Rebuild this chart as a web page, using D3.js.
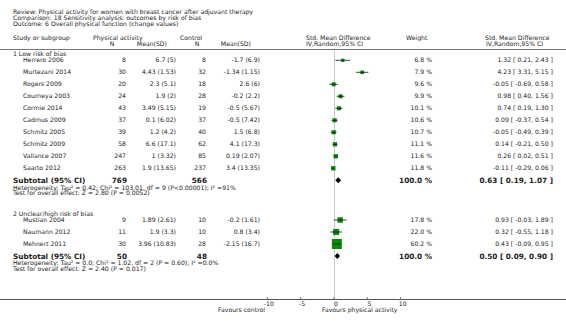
<!DOCTYPE html>
<html>
<head>
<meta charset="utf-8">
<script src="https://cdn.jsdelivr.net/npm/d3@7"></script>
<style>
  body { margin: 0; background: #fff; }
  svg { display: block; font-family: "DejaVu Sans", Verdana, sans-serif; }
</style>
</head>
<body>
<div id="chart"></div>
<script>
// ===========================
// Forest plot - overall physical function by risk of bias
// ===========================

const headerLines = [
    'Review:  Physical activity for women with breast cancer after adjuvant therapy',
    'Comparison:  18 Sensitivity analysis: outcomes by risk of bias',
    'Outcome:  6 Overall physical function (change values)'
];

// group 1 - low risk of bias
const lowStudies = ['Herrero 2006', 'Murtezani 2014', 'Rogers 2009', 'Courneya 2003', 'Cormie 2014',
    'Cadmus 2009', 'Schmitz 2005', 'Schmitz 2009', 'Vallance 2007', 'Saarto 2012'];
const lowExpN = [8, 30, 20, 24, 43, 37, 39, 58, 247, 263];
const lowExpMean = ['6.7 (5)', '4.43 (1.53)', '2.3 (5.1)', '1.9 (2)', '3.49 (5.15)', '0.1 (6.02)',
    '1.2 (4.2)', '6.6 (17.1)', '1 (3.32)', '1.9 (13.65)'];
const lowCtlN = [8, 32, 18, 28, 19, 37, 40, 62, 85, 237];
const lowCtlMean = ['-1.7 (6.9)', '-1.34 (1.15)', '2.6 (6)', '-0.2 (2.2)', '-0.5 (5.67)', '-0.5 (7.42)',
    '1.5 (6.8)', '4.1 (17.3)', '0.19 (2.07)', '3.4 (13.35)'];
const lowWeight = [6.8, 7.9, 9.6, 9.9, 10.1, 10.6, 10.7, 11.1, 11.6, 11.8];
const lowSmd = [1.32, 4.23, -0.05, 0.98, 0.74, 0.09, -0.05, 0.14, 0.26, -0.11];
const lowLo = [0.21, 3.31, -0.69, 0.40, 0.19, -0.37, -0.49, -0.21, 0.02, -0.29];
const lowHi = [2.43, 5.15, 0.58, 1.56, 1.30, 0.54, 0.39, 0.50, 0.51, 0.06];
const lowTotal = { expN: 769, ctlN: 566, smd: 0.63, lo: 0.19, hi: 1.07 };
const lowHet = 'Heterogeneity: Tau\u00b2 = 0.42; Chi\u00b2 = 103.01, df = 9 (P<0.00001); I\u00b2 =91%';
const lowTest = 'Test for overall effect: Z = 2.80 (P = 0.0052)';

// group 2 - unclear/high risk of bias
const highStudies = ['Mustian 2004', 'Naumann 2012', 'Mehnert 2011'];
const highExpN = [9, 11, 30];
const highExpMean = ['1.89 (2.61)', '1.9 (3.3)', '3.96 (10.83)'];
const highCtlN = [10, 10, 28];
const highCtlMean = ['-0.2 (1.61)', '0.8 (3.4)', '-2.15 (16.7)'];
const highWeight = [17.8, 22.0, 60.2];
const highSmd = [0.93, 0.32, 0.43];
const highLo = [-0.03, -0.55, -0.09];
const highHi = [1.89, 1.18, 0.95];
const highTotal = { expN: 50, ctlN: 48, smd: 0.50, lo: 0.09, hi: 0.90 };
const highHet = 'Heterogeneity: Tau\u00b2 = 0.0; Chi\u00b2 = 1.02, df = 2 (P = 0.60); I\u00b2 =0.0%';
const highTest = 'Test for overall effect: Z = 2.40 (P = 0.017)';

const axisTicks = [-10, -5, 0, 5, 10];

const width = 566, height = 329;
const textColor = '#222';
const fs = 6.15;
const fsBold = 7.3;

const svg = d3.select('#chart').append('svg')
    .attr('width', width)
    .attr('height', height);

const x = d3.scaleLinear().domain([-10, 10]).range([267.3, 400.7]);
const boxSize = d3.scaleSqrt().domain([0, 60.2]).range([0, 10]);
const fmt2 = v => v.toFixed(2);   // keep plain hyphen minus like the original

function txt(t, px, py, opts = {}) {
    return svg.append('text')
        .attr('x', px)
        .attr('y', py)
        .attr('dy', '0.35em')
        .attr('font-size', opts.size || fs)
        .attr('font-weight', opts.bold ? 'bold' : 'normal')
        .attr('text-anchor', opts.anchor || 'start')
        .attr('fill', textColor)
        .text(t);
}

// header
headerLines.forEach((l, i) => txt(l, 13, 11.8 + i * 5.8));
txt('Study or subgroup', 13, 38);
txt('Physical activity', 93, 38);
txt('N', 112, 44, { anchor: 'middle' });
txt('Mean(SD)', 167, 44, { anchor: 'end' });
txt('Control', 180, 38);
txt('N', 197, 44, { anchor: 'middle' });
txt('Mean(SD)', 251, 44, { anchor: 'end' });
txt('Std. Mean Difference', 306, 38);
txt('IV,Random,95% CI', 306, 44);
txt('Weight', 406, 38);
txt('Std. Mean Difference', 485, 38);
txt('IV,Random,95% CI', 486, 44);

svg.append('line')
    .attr('x1', 0).attr('x2', width)
    .attr('y1', 49.5).attr('y2', 49.5)
    .attr('stroke', '#777').attr('stroke-width', 1);

// zero line
svg.append('line')
    .attr('x1', Math.round(x(0)) + 0.5).attr('x2', Math.round(x(0)) + 0.5)
    .attr('y1', 50).attr('y2', 299)
    .attr('stroke', '#c8c8c8').attr('stroke-width', 1);

function drawGroup(title, titleY, firstY, studies, expN, expMean, ctlN, ctlMean, weight, smd, lo, hi, total, het, test) {
    txt(title, 13, titleY);
    const y = d3.scaleLinear().domain([0, 1]).range([firstY, firstY + 12]);
    studies.forEach((s, i) => {
        const yy = y(i);
        txt(s, 23, yy);
        txt(expN[i], 126, yy, { anchor: 'end' });
        txt(expMean[i], 176, yy, { anchor: 'end' });
        txt(ctlN[i], 206, yy, { anchor: 'end' });
        txt(ctlMean[i], 260, yy, { anchor: 'end' });
        txt(weight[i].toFixed(1) + ' %', 432, yy, { anchor: 'end' });
        txt(fmt2(smd[i]) + ' [ ' + fmt2(lo[i]) + ', ' + fmt2(hi[i]) + ' ]', 553, yy, { anchor: 'end' });

        const b = boxSize(weight[i]);
        svg.append('rect')
            .attr('x', x(smd[i]) - b / 2)
            .attr('y', yy - b / 2)
            .attr('width', b)
            .attr('height', b)
            .attr('fill', '#0a8a0a');
        svg.append('line')
            .attr('x1', x(lo[i])).attr('x2', x(hi[i]))
            .attr('y1', yy).attr('y2', yy)
            .attr('stroke', '#111').attr('stroke-width', 0.8);
    });

    const ys = y(studies.length);
    txt('Subtotal (95% CI)', 13, ys, { bold: true, size: fsBold });
    txt(total.expN, 127, ys, { bold: true, size: fsBold, anchor: 'end' });
    txt(total.ctlN, 207, ys, { bold: true, size: fsBold, anchor: 'end' });
    txt('100.0 %', 432, ys, { bold: true, size: fsBold, anchor: 'end' });
    txt(fmt2(total.smd) + ' [ ' + fmt2(total.lo) + ', ' + fmt2(total.hi) + ' ]', 553, ys, { bold: true, size: fsBold, anchor: 'end' });

    const dh = 3;
    svg.append('path')
        .attr('d', `M${x(total.lo)},${ys} L${x(total.smd)},${ys - dh} L${x(total.hi)},${ys} L${x(total.smd)},${ys + dh} Z`)
        .attr('fill', '#000');

    txt(het, 13, ys + 7.2);
    txt(test, 13, ys + 12.8);
}

drawGroup('1 Low risk of bias', 54, 60.3, lowStudies, lowExpN, lowExpMean, lowCtlN, lowCtlMean,
    lowWeight, lowSmd, lowLo, lowHi, lowTotal, lowHet, lowTest);
drawGroup('2 Unclear/high risk of bias', 214, 220, highStudies, highExpN, highExpMean, highCtlN, highCtlMean,
    highWeight, highSmd, highLo, highHi, highTotal, highHet, highTest);

// bottom axis
svg.append('line')
    .attr('x1', 0).attr('x2', width)
    .attr('y1', 299.5).attr('y2', 299.5)
    .attr('stroke', '#555').attr('stroke-width', 1);

axisTicks.forEach(t => {
    svg.append('line')
        .attr('x1', x(t)).attr('x2', x(t))
        .attr('y1', 297).attr('y2', 299)
        .attr('stroke', '#555').attr('stroke-width', 0.8);
    txt(String(t), x(t) + (t < 0 ? 1.5 : 2), 303.5, { anchor: 'middle' });
});

txt('Favours control', 265, 310, { anchor: 'end' });
txt('Favours physical activity', 322, 310);
</script>
</body>
</html>
